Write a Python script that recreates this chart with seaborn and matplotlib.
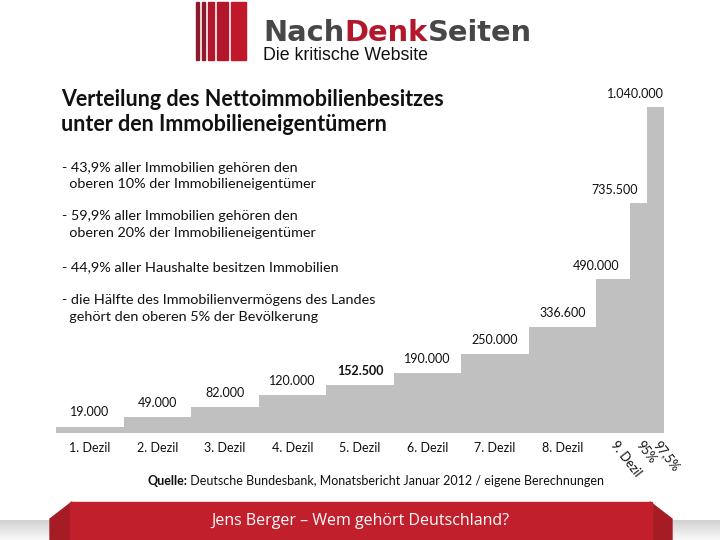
import numpy as np
import pandas as pd
import matplotlib
matplotlib.use("Agg")
import matplotlib.pyplot as plt
from matplotlib.patches import Polygon, Rectangle
import seaborn as sns

# class edges as drawn in the chart (deciles are full width, top classes narrower)
edges = [0, 10, 20, 30, 40, 50, 60, 70, 80, 85, 87.5, 90]
labels = ["1. Dezil", "2. Dezil", "3. Dezil", "4. Dezil", "5. Dezil", "6. Dezil",
          "7. Dezil", "8. Dezil", "9. Dezil", "95%", "97,5%"]
values = [19000, 49000, 82000, 120000, 152500, 190000,
          250000, 336600, 490000, 735500, 1040000]
value_text = ["19.000", "49.000", "82.000", "120.000", "152.500", "190.000",
              "250.000", "336.600", "490.000", "735.500", "1.040.000"]

title = "Verteilung des Nettoimmobilienbesitzes\nunter den Immobilieneigentümern"
bullets = [
    ["- 43,9% aller Immobilien gehören den", "  oberen 10% der Immobilieneigentümer"],
    ["- 59,9% aller Immobilien gehören den", "  oberen 20% der Immobilieneigentümer"],
    ["- 44,9% aller Haushalte besitzen Immobilien"],
    ["- die Hälfte des Immobilienvermögens des Landes", "  gehört den oberen 5% der Bevölkerung"],
]
source_bold = "Quelle:"
source_rest = " Deutsche Bundesbank, Monatsbericht Januar 2012 / eigene Berechnungen"
footer = "Jens Berger – Wem gehört Deutschland?"

mids = [(a + b) / 2 for a, b in zip(edges[:-1], edges[1:])]
df = pd.DataFrame({"klasse": mids, "wert": values})

sns.set_style("white")
plt.rcParams["font.family"] = ["Lato", "DejaVu Sans"]

W, H = 720, 540
fig = plt.figure(figsize=(7.2, 5.4), dpi=100)


def fx(px):
    return px / W


def fy(py):
    return 1 - py / H


# chart area
ax = fig.add_axes([fx(56), fy(432.7), fx(664) - fx(56), (432.7 - 107.3) / H])
sns.histplot(data=df, x="klasse", weights="wert", bins=edges, ax=ax,
             color="#c0c0c0", alpha=1, linewidth=0, edgecolor="none")
ax.set_xlim(edges[0], edges[-1])
ax.set_ylim(0, 1040000)
ax.set_xlabel("")
ax.set_ylabel("")
ax.set_yticks([])
for s in ax.spines.values():
    s.set_visible(False)
ax.set_xticks(mids)
ax.set_xticklabels(labels, fontsize=9, color="#111111")
ax.tick_params(axis="x", length=0, pad=7)
for i, t in enumerate(ax.get_xticklabels()):
    if i >= 8:
        t.set_rotation(-52)
        t.set_rotation_mode("anchor")
        t.set_ha("left")
        t.set_va("center")
        t.set_fontsize(9)

# value labels
for i, (m, v, txt) in enumerate(zip(mids, values, value_text)):
    if i >= 8:
        right = edges[i + 1]
        off = [-8, -7, 0][i - 8]
        ax.annotate(txt, xy=(right, v), xytext=(off, 5), textcoords="offset points",
                    ha="right", va="bottom", fontsize=9, color="#111111",
                    annotation_clip=False)
    else:
        ax.annotate(txt, xy=(m, v), xytext=(0, 6), textcoords="offset points",
                    ha="center", va="bottom", fontsize=9, color="#111111",
                    fontweight="bold" if i == 4 else "normal",
                    annotation_clip=False)

# title and bullets
fig.text(fx(61), fy(89), title, fontsize=15.5, fontweight="bold", color="#111111",
         va="top", linespacing=1.25)
ys = [[168, 184], [216, 233], [267], [300, 317]]
for lines, yy in zip(bullets, ys):
    for line, y in zip(lines, yy):
        fig.text(fx(62), fy(y), line, fontsize=10.4, color="#111111", va="center")

# source line
renderer = fig.canvas.get_renderer()
t = fig.text(fx(147), fy(481), source_bold, fontsize=9, fontweight="bold",
             color="#111111", va="center")
bb = t.get_window_extent(renderer)
fig.text(bb.x1 / W, fy(481), source_rest, fontsize=9, color="#111111", va="center")

# header logo
stripes = [(196, 199, "#8e1b2b"), (202, 205, "#8e1b2b"), (208, 214, "#b3172b"),
           (217, 228, "#b3172b"), (231, 246, "#c0172b")]
for x0, x1, c in stripes:
    fig.patches.append(Rectangle((fx(x0), fy(60)), fx(x1) - fx(x0), 58 / H,
                                 transform=fig.transFigure, color=c))
x = fx(263)
for part, c in [("Nach", "#474747"), ("Denk", "#b3172b"), ("Seiten", "#474747")]:
    t = fig.text(x, fy(41), part, fontsize=20.8, fontweight="bold", color=c,
                 va="baseline", family=["DejaVu Sans"])
    x = t.get_window_extent(renderer).x1 / W
fig.text(fx(263), fy(60), "Die kritische Website", fontsize=12.8,
         family=["Liberation Sans", "DejaVu Sans"], color="#111111", va="baseline")

# footer band
gax = fig.add_axes([0, 0, 1, 20 / H])
grad = np.linspace(0.82, 0.97, 20).reshape(-1, 1)
gax.imshow(grad, aspect="auto", cmap="gray", vmin=0, vmax=1, extent=[0, 1, 0, 1])
gax.axis("off")
fig.patches.append(Polygon([(fx(50), fy(519)), (fx(72), fy(502)), (fx(72), fy(540)),
                            (fx(50), fy(540))], closed=True,
                           transform=fig.transFigure, color="#a51c25", zorder=5))
fig.patches.append(Polygon([(fx(672), fy(519)), (fx(650), fy(502)), (fx(650), fy(540)),
                            (fx(672), fy(540))], closed=True,
                           transform=fig.transFigure, color="#a51c25", zorder=5))
fig.patches.append(Rectangle((fx(70), 0), fx(582), 38 / H, transform=fig.transFigure,
                             color="#c21f2c", zorder=6))
fig.text(0.5, fy(521), footer, fontsize=11.5, color="white", ha="center", va="center",
         family=["Open Sans", "DejaVu Sans"], zorder=7)

fig.savefig("out.png", dpi=100)
